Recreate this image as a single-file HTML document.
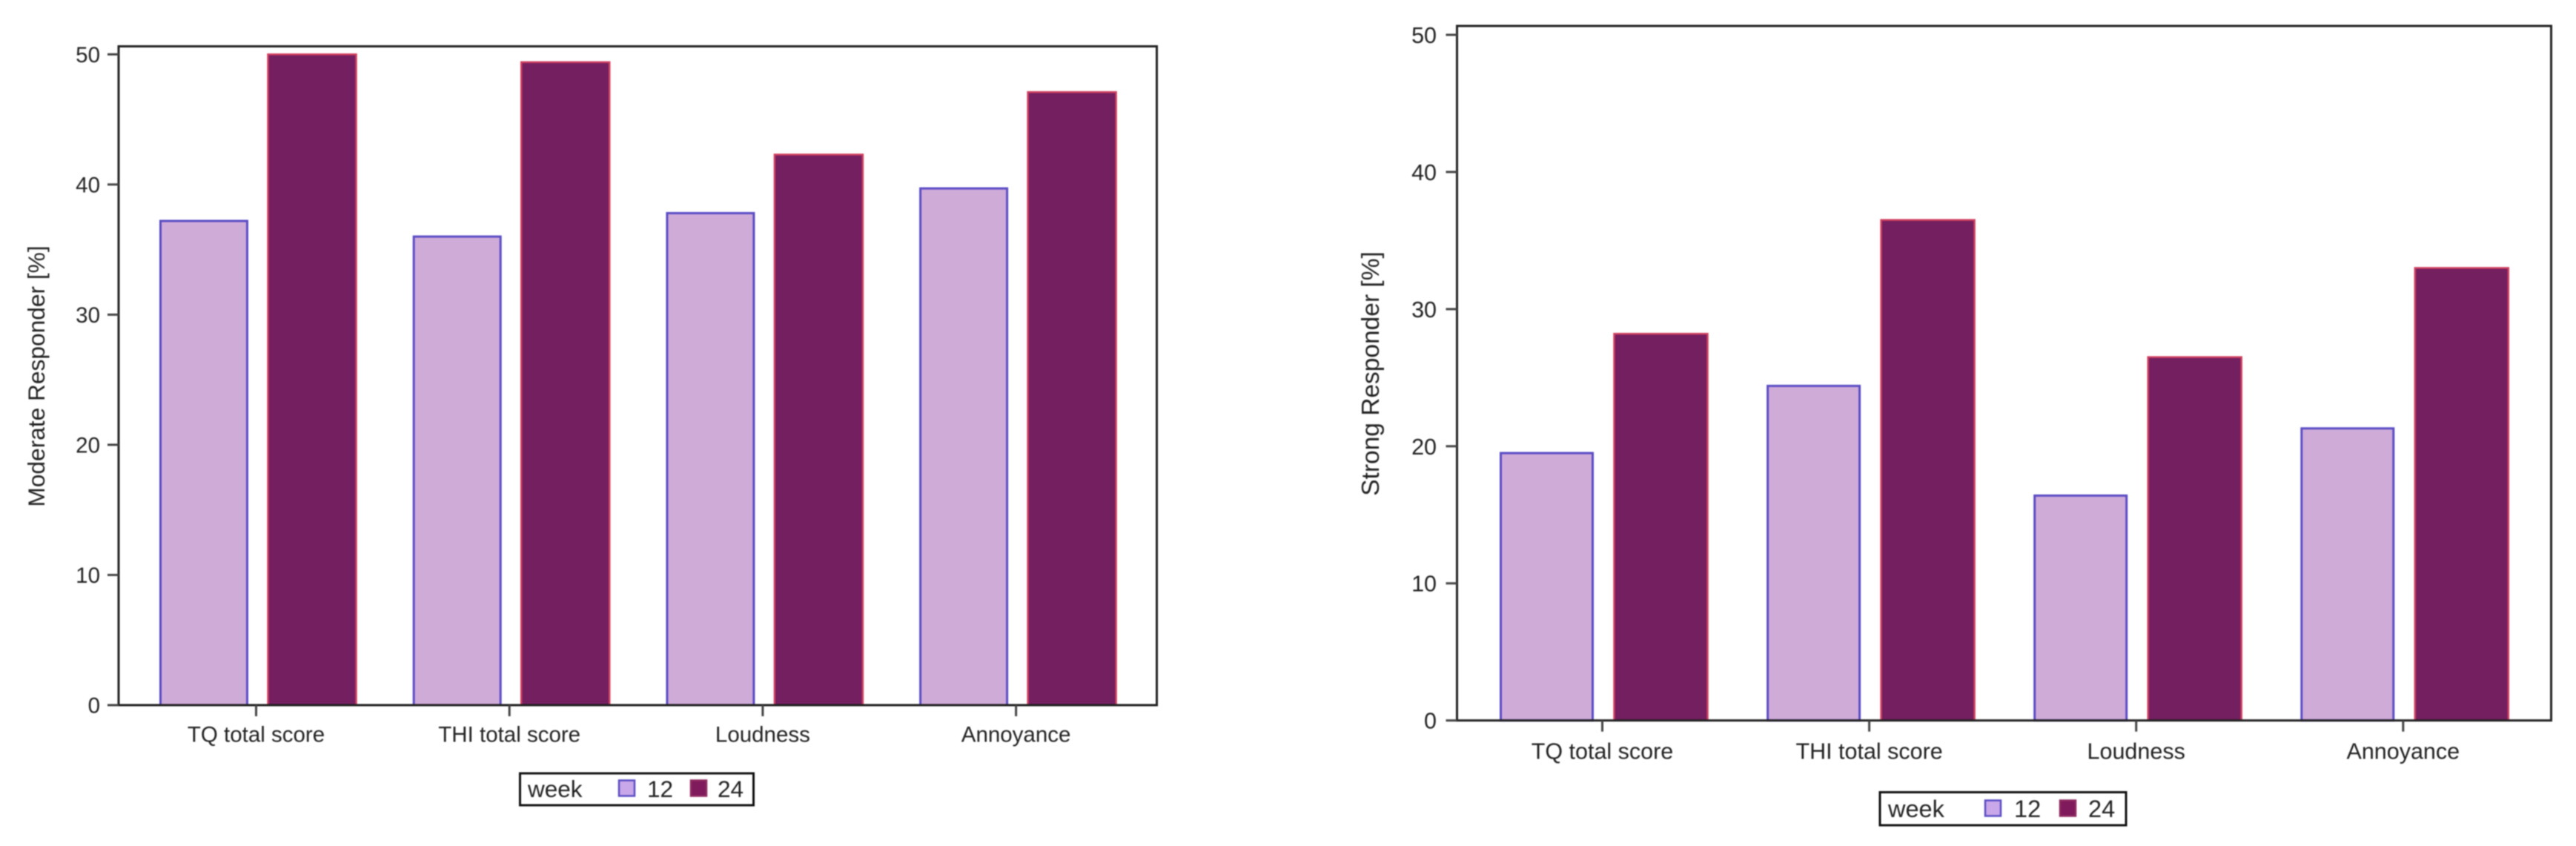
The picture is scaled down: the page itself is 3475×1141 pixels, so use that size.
<!DOCTYPE html>
<html lang="en">
<head>
<meta charset="utf-8">
<title>Moderate and Strong Responder rates by week</title>
<style>
html,body{margin:0;padding:0;background:#fff;width:3475px;height:1141px;overflow:hidden}
svg{display:block;position:absolute;left:0;top:0;filter:blur(0.7px)}
text{font-family:"Liberation Sans",sans-serif;fill:#222}
</style>
</head>
<body>
<svg id="figure" xmlns="http://www.w3.org/2000/svg" width="3475" height="1141" viewBox="0 0 3475 1141">
  <g id="left-chart"></g>
  <g id="right-chart"></g>
</svg>
<script>
const categories = ["TQ total score", "THI total score", "Loudness", "Annoyance"];
const yTickValues = [0, 10, 20, 30, 40, 50];
const seriesNames = ["12", "24"];
const legendTitle = "week";
const moderateWeek12 = [37.2, 36.0, 37.8, 39.7];
const moderateWeek24 = [50.0, 49.4, 42.3, 47.1];
const strongWeek12 = [19.5, 24.4, 16.4, 21.3];
const strongWeek24 = [28.2, 36.5, 26.5, 33.0];

const NS = "http://www.w3.org/2000/svg";
const COLORS = {
  fill12: "#cfabd8", stroke12: "#5a4cc4",
  fill24: "#731f60", stroke24: "#d0405f",
  axis: "#222222"
};

function node(parent, tag, attrs, txt) {
  const el = document.createElementNS(NS, tag);
  for (const k in attrs) el.setAttribute(k, attrs[k]);
  if (txt !== undefined) el.textContent = txt;
  parent.appendChild(el);
  return el;
}

function drawChart(root, cfg) {
  const yScale = v => cfg.y0 - (v / 50) * (cfg.y0 - cfg.y50);
  const xTick = i => cfg.tick0 + i * cfg.tickStep;

  // bars
  categories.forEach((cat, i) => {
    const v12 = cfg.s12[i];
    const v24 = cfg.s24[i];
    const b1 = node(root, "rect", {
      x: xTick(i) + cfg.off12, y: yScale(v12), width: cfg.w12, height: cfg.y0 - yScale(v12),
      fill: COLORS.fill12, stroke: COLORS.stroke12, "stroke-width": 3
    });
    
    
    const b2 = node(root, "rect", {
      x: xTick(i) + cfg.off24, y: yScale(v24), width: cfg.w24, height: cfg.y0 - yScale(v24),
      fill: COLORS.fill24, stroke: COLORS.stroke24, "stroke-width": 2.5
    });
    
    
  });

  // plot frame
  const frame = node(root, "rect", {
    x: cfg.left, y: cfg.top, width: cfg.right - cfg.left, height: cfg.y0 - cfg.top,
    fill: "none", stroke: COLORS.axis, "stroke-width": 3
  });
  
  

  // y ticks
  yTickValues.forEach(v => {
    const t = node(root, "line", {
      x1: cfg.left - cfg.tickLen, x2: cfg.left, y1: yScale(v), y2: yScale(v),
      stroke: "#444", "stroke-width": 3
    });
    
    
    const l = node(root, "text", {
      x: cfg.yLabelX, y: yScale(v) + cfg.font * 0.36, "text-anchor": "end", "font-size": cfg.font
    }, String(v));
    
    
  });

  // x ticks and labels
  categories.forEach((cat, i) => {
    const t = node(root, "line", {
      x1: xTick(i), x2: xTick(i), y1: cfg.y0, y2: cfg.y0 + cfg.tickLen,
      stroke: "#444", "stroke-width": 3
    });
    
    
    const l = node(root, "text", {
      x: xTick(i), y: cfg.xLabelY, "text-anchor": "middle", "font-size": cfg.font
    }, cat);
    
    
  });

  // y title
  const title = node(root, "text", {
    transform: "translate(" + cfg.titleX + "," + cfg.titleY + ") rotate(-90)",
    "text-anchor": "middle", "font-size": cfg.titleFont
  }, cfg.title);
  
  

  // legend
  const lg = node(root, "g", {});
  
  
  const box = node(lg, "rect", {
    x: cfg.lgX, y: cfg.lgY, width: cfg.lgW, height: cfg.lgH,
    fill: "#fff", stroke: "#111", "stroke-width": 3
  });
  
  
  const ttl = node(lg, "text", {
    x: cfg.lgTitleX, y: cfg.lgTextY, "font-size": cfg.font + 2
  }, legendTitle);
  
  
  const sw1 = node(lg, "rect", {
    x: cfg.sw1X, y: cfg.swY, width: 21, height: 21,
    fill: "#c8a8e8", stroke: COLORS.stroke12, "stroke-width": 2.5
  });
  
  
  const t1 = node(lg, "text", {
    x: cfg.lab1X, y: cfg.lgTextY, "font-size": cfg.font + 2
  }, seriesNames[0]);
  
  
  const sw2 = node(lg, "rect", {
    x: cfg.sw2X, y: cfg.swY, width: 21, height: 21,
    fill: "#7f1a5c", stroke: "#8f2a60", "stroke-width": 2.5
  });
  
  
  const t2 = node(lg, "text", {
    x: cfg.lab2X, y: cfg.lgTextY, "font-size": cfg.font + 2
  }, seriesNames[1]);
  
  
}

drawChart(document.getElementById("left-chart"), {
  s12: moderateWeek12, s24: moderateWeek24, title: "Moderate Responder [%]",
  left: 160, right: 1560.5, top: 62.5, y0: 951, y50: 73.3,
  tick0: 345.5, tickStep: 341.7, off12: -129, w12: 117, off24: 16, w24: 119,
  tickLen: 15, yLabelX: 135, xLabelY: 1000.5, font: 29.5,
  titleX: 60, titleY: 507.5, titleFont: 31.7,
  lgX: 701.5, lgY: 1043, lgW: 315, lgH: 43, lgTitleX: 712, lgTextY: 1075,
  sw1X: 835, sw2X: 932, swY: 1052.5, lab1X: 873, lab2X: 968
});

drawChart(document.getElementById("right-chart"), {
  s12: strongWeek12, s24: strongWeek24, title: "Strong Responder [%]",
  left: 1965.5, right: 3441.5, top: 35, y0: 971.7, y50: 47,
  tick0: 2161.5, tickStep: 360.1, off12: -137, w12: 124, off24: 16, w24: 126,
  tickLen: 15, yLabelX: 1938, xLabelY: 1023.5, font: 30.5,
  titleX: 1860, titleY: 504, titleFont: 33.5,
  lgX: 2536, lgY: 1068.5, lgW: 332, lgH: 44.5, lgTitleX: 2547, lgTextY: 1102,
  sw1X: 2678, sw2X: 2779, swY: 1079.5, lab1X: 2717, lab2X: 2817
});
</script>
</body>
</html>
